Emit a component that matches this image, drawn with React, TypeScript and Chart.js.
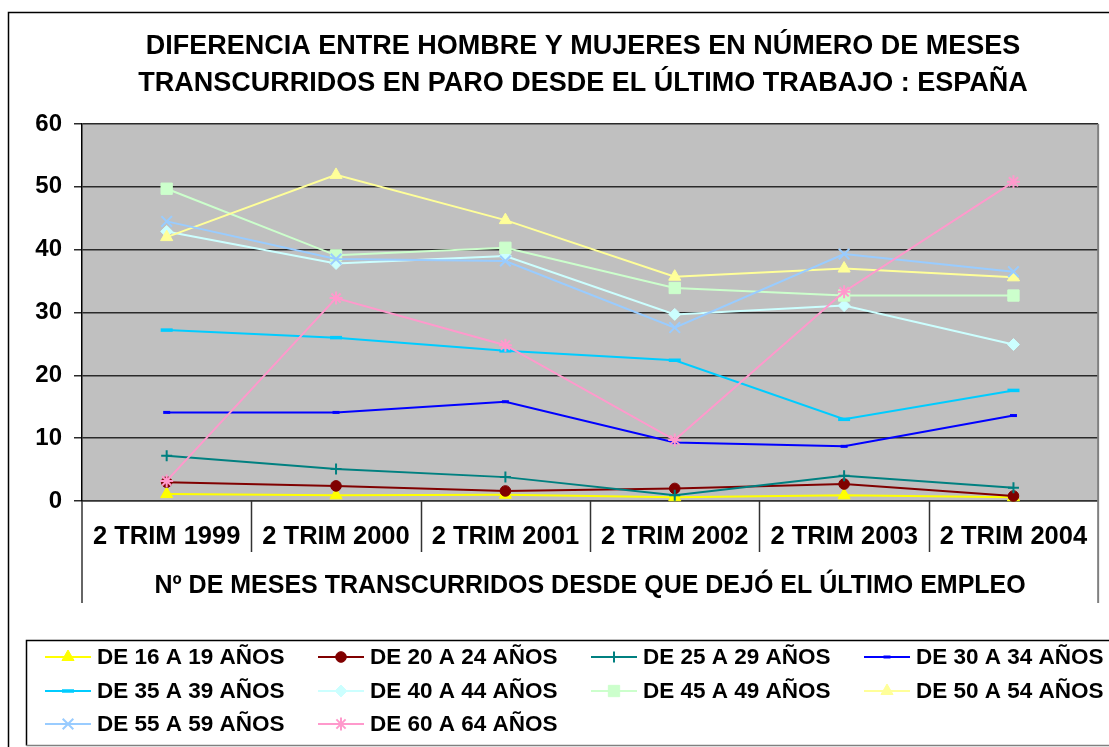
import React, { useEffect, useRef } from 'react';
import { Chart, registerables } from 'chart.js';
import { drawPoint } from 'chart.js/helpers';

Chart.register(...registerables);

const FONT = "'Liberation Sans', Arial, Helvetica, sans-serif";

// ---------- data ----------
const categories = ['2 TRIM 1999', '2 TRIM 2000', '2 TRIM 2001', '2 TRIM 2002', '2 TRIM 2003', '2 TRIM 2004'];

const titleLines = [
  'DIFERENCIA ENTRE HOMBRE Y MUJERES EN NÚMERO DE MESES',
  'TRANSCURRIDOS EN PARO DESDE EL ÚLTIMO TRABAJO : ESPAÑA',
];
const xAxisTitle = 'Nº DE MESES TRANSCURRIDOS DESDE QUE DEJÓ EL ÚLTIMO EMPLEO';

const seriesLabels = [
  'DE 16 A 19 AÑOS',
  'DE 20 A 24 AÑOS',
  'DE 25 A 29 AÑOS',
  'DE 30 A 34 AÑOS',
  'DE 35 A 39 AÑOS',
  'DE 40 A 44 AÑOS',
  'DE 45 A 49 AÑOS',
  'DE 50 A 54 AÑOS',
  'DE 55 A 59 AÑOS',
  'DE 60 A 64 AÑOS',
];

const de16a19 = [1.1, 0.9, 1.0, 0.6, 0.9, 0.6];
const de20a24 = [3.0, 2.4, 1.6, 2.0, 2.7, 0.8];
const de25a29 = [7.2, 5.1, 3.8, 0.9, 4.0, 2.1];
const de30a34 = [14.1, 14.1, 15.8, 9.3, 8.7, 13.6];
const de35a39 = [27.2, 26.0, 23.9, 22.4, 13.0, 17.6];
const de40a44 = [42.9, 37.8, 39.0, 29.7, 31.1, 24.9];
const de45a49 = [49.7, 39.1, 40.3, 33.9, 32.7, 32.7];
const de50a54 = [42.0, 51.9, 44.7, 35.7, 37.0, 35.6];
const de55a59 = [44.5, 38.5, 38.2, 27.6, 39.3, 36.5];
const de60a64 = [3.2, 32.3, 24.8, 9.7, 33.3, 50.8];

const seriesValues = [de16a19, de20a24, de25a29, de30a34, de35a39, de40a44, de45a49, de50a54, de55a59, de60a64];

const yTicks = [0, 10, 20, 30, 40, 50, 60];

// ---------- styles ----------
const seriesColors = ['#FFFF00', '#800000', '#008080', '#0000FF', '#00CCFF', '#CCFFFF', '#CCFFCC', '#FFFF99', '#99CCFF', '#FF99CC'];
const seriesPointStyles = ['triangle', 'circle', 'cross', 'line', 'line', 'rectRot', 'rect', 'triangle', 'crossRot', 'star'];
const seriesPointRadii = [7, 5.3, 5.5, 3.5, 6, 6, 8, 7, 7.5, 6.5];
const seriesPointBorders = [1, 1, 2, 3, 3.5, 1, 1, 1, 2, 2];

const legendRowsY = [657, 691, 724];
const legendColsX = [97, 370, 643, 916];

const decorPlugin = {
  id: 'decor',
  beforeDraw(chart: any) {
    const { ctx, chartArea: ca } = chart;
    ctx.save();
    ctx.fillStyle = '#ffffff';
    ctx.fillRect(0, 0, chart.width, chart.height);
    ctx.fillStyle = '#C0C0C0';
    ctx.fillRect(ca.left, ca.top, ca.right - ca.left, ca.bottom - ca.top);
    ctx.strokeStyle = '#000';
    ctx.lineWidth = 1.5;
    ctx.strokeRect(8.5, 12.5, 1130, 760);
    ctx.restore();
  },
  afterDraw(chart: any) {
    const { ctx, chartArea: ca } = chart;
    const xs = chart.scales.x;
    ctx.save();
    // title
    ctx.fillStyle = '#000';
    ctx.font = `bold 27px ${FONT}`;
    ctx.textAlign = 'center';
    ctx.textBaseline = 'middle';
    ctx.fillText(titleLines[0], 583, 47);
    ctx.fillText(titleLines[1], 583, 84);

    // category separators (multi-level axis look)
    ctx.lineWidth = 1.5;
    ctx.strokeStyle = '#333';
    for (let i = 0; i < categories.length - 1; i++) {
      const xb = Math.round((xs.getPixelForValue(i) + xs.getPixelForValue(i + 1)) / 2) + 0.5;
      ctx.beginPath();
      ctx.moveTo(xb, ca.bottom);
      ctx.lineTo(xb, 552);
      ctx.stroke();
    }
    ctx.beginPath();
    ctx.moveTo(ca.left, ca.bottom);
    ctx.lineTo(ca.left, 603);
    ctx.stroke();
    ctx.strokeStyle = '#808080';
    ctx.lineWidth = 2;
    ctx.beginPath();
    ctx.moveTo(ca.right, ca.top);
    ctx.lineTo(ca.right, 603);
    ctx.stroke();

    // legend box
    ctx.lineWidth = 1.5;
    ctx.strokeStyle = '#000';
    ctx.beginPath();
    ctx.moveTo(1120, 640.5);
    ctx.lineTo(26.5, 640.5);
    ctx.lineTo(26.5, 745.5);
    ctx.stroke();
    ctx.strokeStyle = '#808080';
    ctx.beginPath();
    ctx.moveTo(26.5, 745.5);
    ctx.lineTo(1120, 745.5);
    ctx.stroke();

    // legend items
    ctx.font = `bold 22.5px ${FONT}`;
    ctx.textAlign = 'left';
    ctx.textBaseline = 'middle';
    seriesLabels.forEach((lab, i) => {
      const row = Math.floor(i / 4);
      const col = i % 4;
      const tx = legendColsX[col];
      const ty = legendRowsY[row];
      const color = seriesColors[i];
      ctx.strokeStyle = color;
      ctx.lineWidth = 2;
      ctx.beginPath();
      ctx.moveTo(tx - 52, ty);
      ctx.lineTo(tx - 6, ty);
      ctx.stroke();
      ctx.fillStyle = color;
      ctx.strokeStyle = color;
      ctx.lineWidth = seriesPointBorders[i];
      drawPoint(ctx, {
        pointStyle: seriesPointStyles[i] as any,
        rotation: 0,
        radius: seriesPointRadii[i],
        borderWidth: seriesPointBorders[i],
      } as any, tx - 29, ty);
      ctx.fillStyle = '#000';
      ctx.fillText(lab, tx, ty + 1);
    });
    ctx.restore();
  },
};

export default function App() {
  const ref = useRef<HTMLCanvasElement>(null);
  useEffect(() => {
    const datasets = seriesLabels.map((label, i) => ({
      label,
      data: seriesValues[i],
      borderColor: seriesColors[i],
      backgroundColor: seriesColors[i],
      borderWidth: 2,
      pointStyle: seriesPointStyles[i],
      pointRadius: seriesPointRadii[i],
      pointHoverRadius: seriesPointRadii[i],
      pointBackgroundColor: seriesColors[i],
      pointBorderColor: seriesColors[i],
      pointBorderWidth: seriesPointBorders[i],
      tension: 0,
      clip: false as any,
      order: seriesLabels.length - i,
    }));
    const chart = new Chart(ref.current!, {
      type: 'line',
      data: { labels: categories, datasets },
      options: {
        responsive: false,
        animation: false,
        devicePixelRatio: 1,
        events: [],
        layout: { padding: { top: 124, right: 10, bottom: 144, left: 0 } },
        plugins: {
          legend: { display: false },
          title: { display: false },
          tooltip: { enabled: false },
        },
        scales: {
          x: {
            type: 'category',
            offset: true,
            grid: { display: false, drawTicks: false },
            border: { display: true, color: '#333', width: 1.5 },
            ticks: {
              color: '#000',
              font: { family: FONT, size: 25.5, weight: 'bold' },
              padding: 21,
              maxRotation: 0,
              autoSkip: false,
            },
            title: {
              display: true,
              text: xAxisTitle,
              color: '#000',
              font: { family: FONT, size: 25, weight: 'bold' },
              padding: { top: 0, bottom: 2 },
            },
            afterFit: (s: any) => { s.height = 102; },
          },
          y: {
            min: 0,
            max: 60,
            afterBuildTicks: (s: any) => { s.ticks = yTicks.map((v) => ({ value: v })); },
            grid: { color: '#2a2a2a', lineWidth: 1.5, tickLength: 8 },
            border: { display: true, color: '#000', width: 1.5 },
            ticks: {
              color: '#000',
              font: { family: FONT, size: 24, weight: 'bold' },
              padding: 12,
            },
            afterFit: (s: any) => { s.width = 82; },
          },
        },
      } as any,
      plugins: [decorPlugin],
    });
    return () => chart.destroy();
  }, []);
  return (
    <div style={{ position: 'absolute', left: 0, top: 0, width: 1109, height: 747 }}>
      <canvas ref={ref} width={1109} height={747} style={{ display: 'block' }} />
    </div>
  );
}
